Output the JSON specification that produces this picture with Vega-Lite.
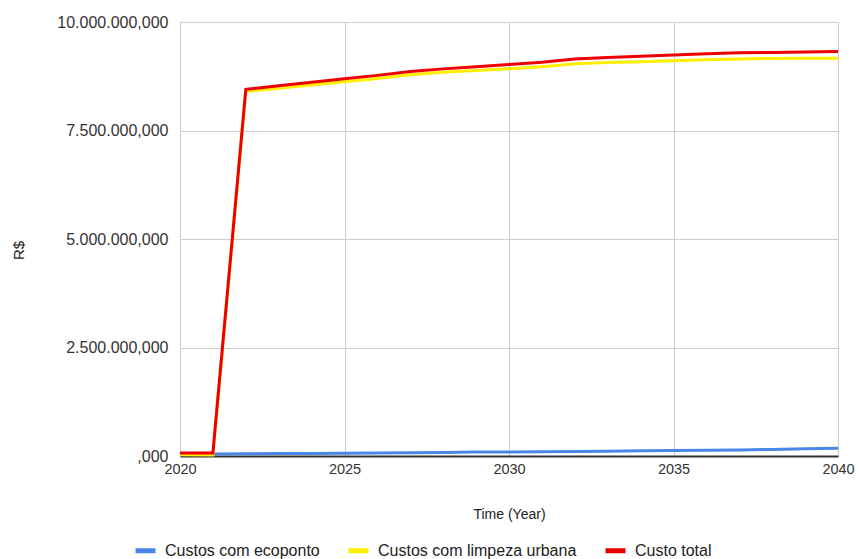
{
  "$schema": "https://vega.github.io/schema/vega-lite/v6.json",
  "autosize": {"type": "none"},
  "width": 658,
  "height": 434,
  "padding": {"left": 180, "top": 22, "right": 21, "bottom": 103},
  "background": "white",
  "config": {
    "locale": {"number": {"decimal": ",", "thousands": ".", "grouping": [3], "currency": ["R$", ""]}},
    "view": {"stroke": null},
    "font": "Liberation Sans"
  },
  "data": {
    "values": [
      {"Year": 2020, "eco": 0.04, "limp": 0.03, "total": 0.07},
      {"Year": 2021, "eco": 0.045, "limp": 0.025, "total": 0.07},
      {"Year": 2022, "eco": 0.05, "limp": 8.40, "total": 8.45},
      {"Year": 2023, "eco": 0.055, "limp": 8.475, "total": 8.53},
      {"Year": 2024, "eco": 0.06, "limp": 8.55, "total": 8.61},
      {"Year": 2025, "eco": 0.065, "limp": 8.625, "total": 8.69},
      {"Year": 2026, "eco": 0.07, "limp": 8.70, "total": 8.77},
      {"Year": 2027, "eco": 0.075, "limp": 8.785, "total": 8.86},
      {"Year": 2028, "eco": 0.08, "limp": 8.84, "total": 8.92},
      {"Year": 2029, "eco": 0.09, "limp": 8.88, "total": 8.97},
      {"Year": 2030, "eco": 0.095, "limp": 8.925, "total": 9.02},
      {"Year": 2031, "eco": 0.10, "limp": 8.97, "total": 9.07},
      {"Year": 2032, "eco": 0.105, "limp": 9.04, "total": 9.15},
      {"Year": 2033, "eco": 0.11, "limp": 9.065, "total": 9.18},
      {"Year": 2034, "eco": 0.12, "limp": 9.085, "total": 9.21},
      {"Year": 2035, "eco": 0.125, "limp": 9.11, "total": 9.24},
      {"Year": 2036, "eco": 0.13, "limp": 9.13, "total": 9.27},
      {"Year": 2037, "eco": 0.14, "limp": 9.15, "total": 9.29},
      {"Year": 2038, "eco": 0.15, "limp": 9.16, "total": 9.30},
      {"Year": 2039, "eco": 0.165, "limp": 9.165, "total": 9.31},
      {"Year": 2040, "eco": 0.18, "limp": 9.165, "total": 9.32}
    ]
  },
  "transform": [
    {"fold": ["eco", "limp", "total"], "as": ["key", "bn"]},
    {"calculate": "datum.bn * 1000000000", "as": "value"},
    {"calculate": "datum.key == 'eco' ? 'Custos com ecoponto' : datum.key == 'limp' ? 'Custos com limpeza urbana' : 'Custo total'", "as": "Series"}
  ],
  "encoding": {
    "x": {
      "field": "Year", "type": "quantitative",
      "scale": {"domain": [2020, 2040], "nice": false, "zero": false},
      "axis": {
        "values": [2020, 2025, 2030, 2035, 2040], "format": "d",
        "labelFlush": false,
        "title": "Time (Year)", "titleFontSize": 14, "titleFontWeight": "normal", "titleColor": "#222",
        "titlePadding": 32,
        "labelFontSize": 14.5, "labelColor": "#333", "labelPadding": 6,
        "ticks": false, "domainColor": "#333", "domainWidth": 2,
        "grid": true, "gridColor": "#cccccc", "gridWidth": 1
      }
    },
    "y": {
      "field": "value", "type": "quantitative",
      "scale": {"domain": [0, 10000000000], "nice": false},
      "axis": {
        "values": [0, 2500000000, 5000000000, 7500000000, 10000000000],
        "labelExpr": "datum.value == 0 ? ',000' : format(datum.value / 1000, ',.3f')",
        "title": "R$", "titleFontSize": 15, "titleFontWeight": "normal", "titleColor": "#222",
        "titleX": -162, "titleY": 228, "titleAngle": -90, "titleAlign": "center", "titleBaseline": "middle",
        "labelFontSize": 16, "labelColor": "#333", "labelPadding": 12, "labelFlush": false,
        "ticks": false, "domain": false,
        "grid": true, "gridColor": "#cccccc", "gridWidth": 1
      }
    },
    "color": {
      "field": "Series", "type": "nominal",
      "scale": {"domain": ["Custos com ecoponto", "Custos com limpeza urbana", "Custo total"], "range": ["#4a86e8", "#ffee00", "#ee0000"]},
      "legend": {
        "title": null, "orient": "none", "direction": "horizontal",
        "legendX": -47, "legendY": 516,
        "symbolType": "stroke", "symbolStrokeWidth": 5, "symbolSize": 400,
        "labelFontSize": 16, "labelColor": "#222", "labelLimit": 400,
        "columnPadding": 18, "labelOffset": 7
      }
    }
  },
  "layer": [
    {"transform": [{"filter": "datum.key == 'eco'"}], "mark": {"type": "line", "strokeWidth": 3}},
    {"transform": [{"filter": "datum.key == 'limp'"}], "mark": {"type": "line", "strokeWidth": 3}},
    {"transform": [{"filter": "datum.key == 'total'"}], "mark": {"type": "line", "strokeWidth": 3}}
  ]
}
